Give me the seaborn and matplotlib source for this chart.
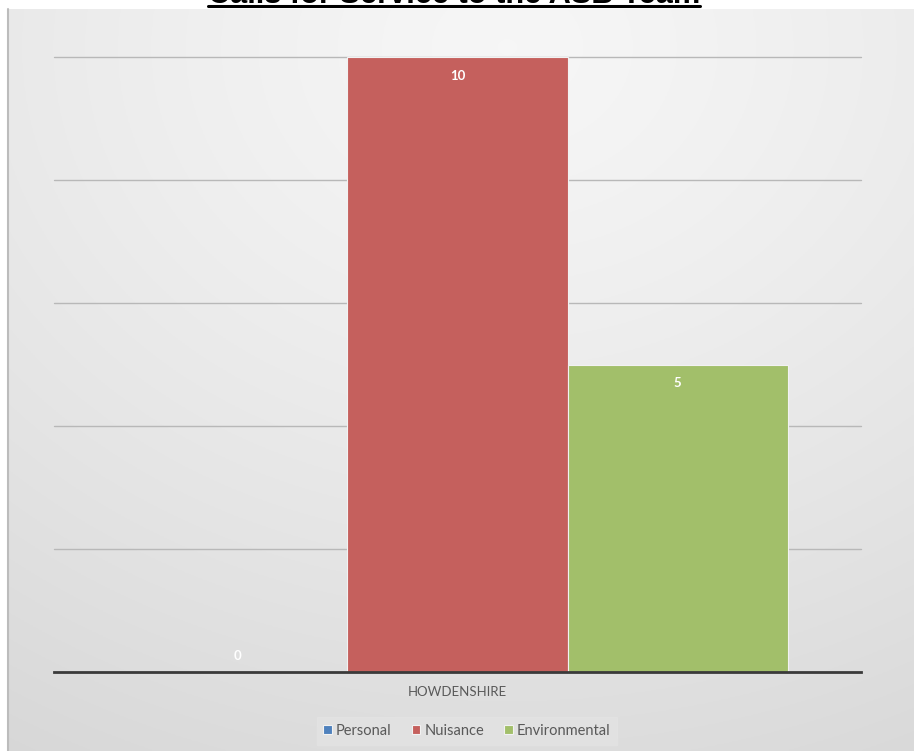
import numpy as np
import pandas as pd
import matplotlib
matplotlib.use("Agg")
import matplotlib.pyplot as plt
from matplotlib.lines import Line2D
import seaborn as sns

# Data
areas = ["HOWDENSHIRE"]
call_types = ["Personal", "Nuisance", "Environmental"]
counts = [0, 10, 5]
type_colors = ["#4f81bd", "#c5605d", "#a2bf6a"]
title_text = "Calls for Service to the ASB Team"

df = pd.DataFrame({
    "area": areas * len(call_types),
    "type": call_types,
    "count": counts,
})

sns.set_theme(style="white")
plt.rcParams["font.family"] = ["Lato", "DejaVu Sans"]

W, H = 914, 751
fig = plt.figure(figsize=(W / 100, H / 100), dpi=100)
fig.patch.set_facecolor("white")

# Chart area background: soft radial grey gradient with a thin border on the left
top_strip = 9
bg = fig.add_axes([8 / W, 0, 1 - 8 / W, (H - top_strip) / H], zorder=-10)
ny, nx = 300, 400
yy, xx = np.mgrid[0:ny, 0:nx]
cx, cy = nx * 0.55, ny * 0.05
r = np.sqrt(((xx - cx) / nx) ** 2 + ((yy - cy) / ny) ** 2)
r = r / r.max()
vals = 0.965 - 0.12 * r ** 1.3
bg.imshow(np.dstack([vals] * 3), aspect="auto", extent=[0, 1, 0, 1], origin="upper")
bg.set_axis_off()
fig.add_artist(Line2D([8 / W, 8 / W], [0, (H - top_strip) / H], color="#bcbcbc",
                      lw=1.5, transform=fig.transFigure))

# Plot area
left, right = 54, 861
y_top, y_axis = 57, 672
ax = fig.add_axes([left / W, (H - y_axis) / H, (right - left) / W, (y_axis - y_top) / H])
ax.patch.set_alpha(0)

sns.barplot(data=df, x="area", y="count", hue="type", hue_order=call_types,
            palette=type_colors, width=0.818, dodge=True, ax=ax,
            edgecolor="#f2f2f2", linewidth=0.8, saturation=1, legend=True, zorder=3)

ax.set_ylim(0, 10)
ax.set_xlim(-0.5, 0.5)
ax.set_yticks([0, 2, 4, 6, 8, 10])
ax.set_yticklabels([])
ax.tick_params(axis="y", length=0)
ax.tick_params(axis="x", length=0, pad=10, labelsize=9.5, labelcolor="#595959")
ax.set_xlabel("")
ax.set_ylabel("")
for s in ["top", "right", "left"]:
    ax.spines[s].set_visible(False)
ax.spines["bottom"].set_color("#3a3a3a")
ax.spines["bottom"].set_linewidth(2)
ax.spines["bottom"].set_zorder(5)
for yv in [2, 4, 6, 8, 10]:
    ax.axhline(yv, color="#b8b8b8", lw=1, zorder=1, clip_on=False)

# Value labels inside the bar ends (above the axis for zero-height bars)
for patch, val in zip(ax.patches, counts):
    xc = patch.get_x() + patch.get_width() / 2
    off = -13.5 if val > 0 else 11.5
    ax.annotate(f"{val}", (xc, val), xytext=(0, off), textcoords="offset points",
                ha="center", va="center", color="white", fontsize=9.5,
                fontweight="bold", zorder=6)

# Legend below the axis
leg = ax.legend(loc="center", bbox_to_anchor=(467 / W, (H - 731) / H),
                bbox_transform=fig.transFigure, ncol=3, frameon=True,
                fontsize=10.5, handlelength=0.55, handleheight=0.55,
                handletextpad=0.3, columnspacing=1.4, borderpad=0.45,
                fancybox=False)
leg.get_frame().set_facecolor("#e3e3e3")
leg.get_frame().set_edgecolor("#e3e3e3")
for t in leg.get_texts():
    t.set_color("#595959")

# Title, mostly above the image edge, bold and underlined
tx = 454 / W
ttl = fig.text(tx, 1 - 3 / H, title_text, ha="center", va="baseline",
               fontsize=20, fontweight="bold", color="black",
               family=["Liberation Sans", "DejaVu Sans"])
fig.canvas.draw()
bb = ttl.get_window_extent()
ttl.set_fontsize(20 * 492 / bb.width)
fig.canvas.draw()
bb = ttl.get_window_extent()
fig.add_artist(Line2D([bb.x0 / W, bb.x1 / W], [1 - 6 / H, 1 - 6 / H], color="black",
                      lw=2.2, transform=fig.transFigure))

fig.savefig("out.png", dpi=100, facecolor="white")
